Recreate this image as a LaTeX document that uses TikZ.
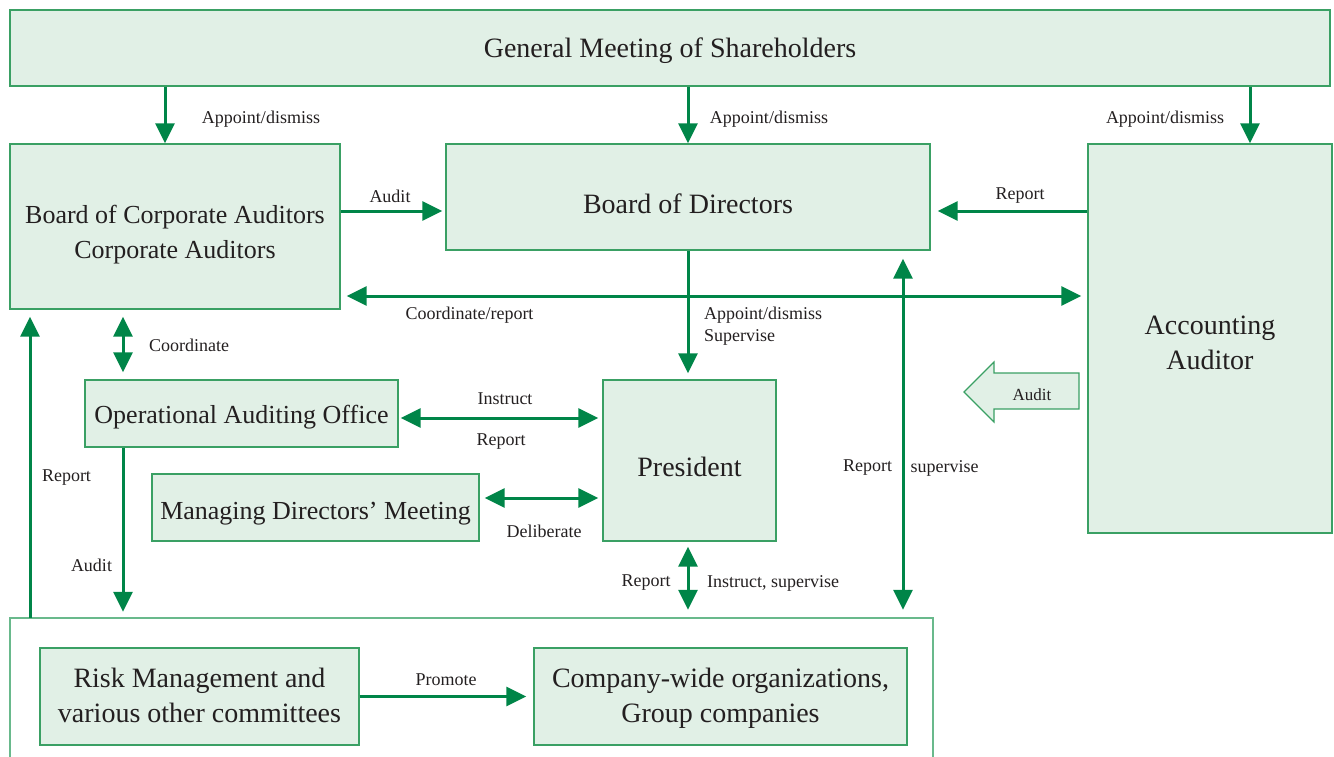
\documentclass[tikz,border=0pt]{standalone}
\usepackage{fontspec}
\setmainfont{Liberation Serif}
\usetikzlibrary{arrows.meta}
\definecolor{boxc}{RGB}{58,160,100}
\definecolor{contc}{RGB}{105,185,140}
\definecolor{fillc}{RGB}{225,240,230}
\definecolor{arrc}{RGB}{0,133,72}
\definecolor{txtc}{RGB}{35,31,32}
\newcommand\BigTxt{\fontsize{28}{35}\selectfont}
\newcommand\MidTxt{\fontsize{26}{35}\selectfont}
\newcommand\SmTxt{\fontsize{18}{22}\selectfont}
\newcommand\TinyTxt{\fontsize{17}{20}\selectfont}
\newcommand\Lower[2]{\raisebox{-#1}[\height][\depth]{#2}}
\newcommand\Lines[2]{\raisebox{-#1}[\height][\depth]{\begin{tabular}{@{}c@{}}#2\end{tabular}}}
\tikzset{
  box/.style={draw=boxc, fill=fillc, line width=1.3pt, inner sep=0pt, align=center, text=txtc},
  lab/.style={font=\SmTxt, text=txtc, inner sep=0pt},
  tipk/.tip={Triangle[length=20pt,width=19pt]},
  arr/.style={draw=arrc, line width=3pt, -tipk},
  dbl/.style={draw=arrc, line width=3pt, tipk-tipk},
}
\begin{document}
\begin{tikzpicture}[x=1pt,y=-1pt]
\useasboundingbox (0,0) rectangle (1334,757);
% nodes
\node[box, font=\BigTxt, minimum width=1320pt, minimum height=76pt] (gm) at (670,48) {\Lower{3pt}{General Meeting of Shareholders}};
\node[box, font=\MidTxt, minimum width=330pt, minimum height=165pt] (bca) at (175,226.5) {\Lines{7pt}{Board of Corporate Auditors\\Corporate Auditors}};
\node[box, font=\BigTxt, minimum width=484pt, minimum height=106pt] (bod) at (688,197) {\Lower{7pt}{Board of Directors}};
\node[box, font=\BigTxt, minimum width=244pt, minimum height=389pt] (aa) at (1210,338.5) {\Lines{6pt}{Accounting\\Auditor}};
\node[box, font=\MidTxt, minimum width=313pt, minimum height=67pt] (oao) at (241.5,413.5) {\Lower{4pt}{Operational Auditing Office}};
\node[box, font=\MidTxt, minimum width=327pt, minimum height=67pt] (mdm) at (315.5,507.5) {\Lower{6pt}{Managing Directors’ Meeting}};
\node[box, font=\BigTxt, minimum width=173pt, minimum height=161pt] (pres) at (689.5,460.5) {\Lower{6pt}{President}};
\node[inner sep=0pt, minimum width=923pt, minimum height=139pt] (cont) at (471.5,687.5) {};
\draw[draw=contc, line width=1.5pt] (cont.south west) -- (cont.north west) -- (cont.north east) -- (cont.south east);
\node[box, font=\BigTxt, minimum width=319pt, minimum height=97pt] (risk) at (199.5,696.5) {\Lines{1pt}{Risk Management and\\various other committees}};
\node[box, font=\BigTxt, minimum width=373pt, minimum height=97pt] (comp) at (720.5,696.5) {\Lines{1pt}{Company-wide organizations,\\Group companies}};
% block arrow
\draw[boxc, fill=fillc, line width=1.2pt] (964,392) -- (994,362) -- (994,373) -- (1079,373) -- (1079,409) -- (994,409) -- (994,422) -- cycle;
\node[font=\TinyTxt, text=txtc, inner sep=0pt] (auditblk) at (1032,395) {Audit};
% arrows
\draw[arr] ([xshift=-10pt]bca.north |- gm.south) -- ([xshift=-10pt]bca.north);
\draw[arr] (gm.south -| bod.north) -- (bod.north);
\draw[arr] ([xshift=40pt]aa.north |- gm.south) -- ([xshift=40pt]aa.north);
\draw[arr, shorten >=3pt] ([yshift=15.5pt]bca.east) -- ([yshift=15.5pt]bca.east -| bod.west);
\draw[arr, shorten >=7pt] ([yshift=-14pt]bod.east -| aa.west) -- ([yshift=-14pt]bod.east);
\draw[dbl, shorten <=6pt, shorten >=6pt] ([yshift=-69.5pt]bca.east) -- ([yshift=-69.5pt]bca.east -| aa.west);
\draw[arr, shorten >=6pt] (bod.south) -- (bod.south |- pres.north);
\draw[dbl, shorten <=7pt, shorten >=7pt] ([xshift=-118.5pt]oao.north |- bca.south) -- ([xshift=-118.5pt]oao.north);
\draw[dbl, shorten <=2pt, shorten >=4pt] ([yshift=-4.5pt]oao.east) -- ([yshift=-4.5pt]oao.east -| pres.west);
\draw[dbl, shorten <=5pt, shorten >=4pt] ([yshift=9.5pt]mdm.east) -- ([yshift=9.5pt]mdm.east -| pres.west);
\draw[dbl, shorten <=5pt, shorten >=8pt] (pres.south -| bod.south) -- (bod.south |- cont.north);
\draw[dbl, shorten <=8pt, shorten >=8pt] ([xshift=215pt]bod.south) -- ([xshift=215pt]bod.south |- cont.north);
\draw[arr, shorten >=6pt] ([xshift=-118.5pt]oao.south) -- ([xshift=-118.5pt]oao.south |- cont.north);
\draw[arr, shorten >=7pt] ([xshift=-145pt]bca.south |- cont.north) -- ([xshift=-145pt]bca.south);
\draw[arr, shorten >=7pt] (risk.east) -- (comp.west);
% labels
\node[lab] (l1) at (261,119) {Appoint/dismiss};
\node[lab] (l2) at (769,119) {Appoint/dismiss};
\node[lab] (l3) at (1165,119) {Appoint/dismiss};
\node[lab] (l4) at (390,196) {Audit};
\node[lab] (l5) at (1020,196) {Report};
\node[lab] (l6) at (469.5,315) {Coordinate/report};
\node[lab, anchor=west, align=left] (l7) at (704,326) {Appoint/dismiss\\Supervise};
\node[lab] (l8) at (189,345) {Coordinate};
\node[lab] (l9) at (505,399) {Instruct};
\node[lab] (l10) at (501,442) {Report};
\node[lab] (l11) at (544,531) {Deliberate};
\node[lab] (l12) at (646,583) {Report};
\node[lab] (l13) at (773,583) {Instruct, supervise};
\node[lab] (l14) at (867.5,468) {Report};
\node[lab] (l15) at (944.5,468) {supervise};
\node[lab] (l16) at (66.5,478) {Report};
\node[lab] (l17) at (91.5,565) {Audit};
\node[lab] (l18) at (446,680) {Promote};
\end{tikzpicture}
\end{document}
